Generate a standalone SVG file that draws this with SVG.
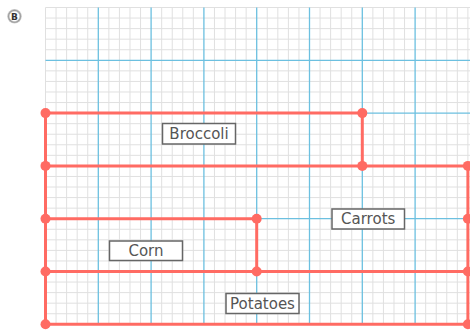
<svg xmlns="http://www.w3.org/2000/svg" width="470" height="333" viewBox="0 0 470 333">
<style>
.fine{stroke:#e0e0e0;stroke-width:1;fill:none}
.major{stroke:#6cc0e0;stroke-width:1.3;fill:none}
.red{stroke:#ff6b63;stroke-width:3;fill:none;stroke-linecap:round}
.dot{fill:#ff6b63}
.lbl rect{fill:#ffffff;stroke:#666666;stroke-width:1.5}
.lbl text{font-family:"DejaVu Sans",sans-serif;font-size:15px;fill:#555555;text-anchor:middle}
</style>
<defs>
<radialGradient id="bg" cx="50%" cy="50%" r="50%">
<stop offset="0.6" stop-color="#ffffff"/>
<stop offset="0.8" stop-color="#9a9a9a"/>
<stop offset="1" stop-color="#d0d0d0"/>
</radialGradient>
</defs>
<rect width="470" height="333" fill="#ffffff"/>
<g id="badge">
<circle cx="14.5" cy="16.3" r="7.3" fill="url(#bg)"/>
<text x="14.5" y="19.6" font-family="DejaVu Sans,sans-serif" font-size="9" font-weight="bold" fill="#333333" text-anchor="middle">B</text>
</g>
<g id="grid">
<path class="fine" d="M45.5 7.5V324.3M56.06 7.5V324.3M66.62 7.5V324.3M77.18 7.5V324.3M87.74 7.5V324.3M108.86 7.5V324.3M119.42 7.5V324.3M129.98 7.5V324.3M140.54 7.5V324.3M161.66 7.5V324.3M172.22 7.5V324.3M182.78 7.5V324.3M193.34 7.5V324.3M214.46 7.5V324.3M225.02 7.5V324.3M235.58 7.5V324.3M246.14 7.5V324.3M267.26 7.5V324.3M277.82 7.5V324.3M288.38 7.5V324.3M298.94 7.5V324.3M320.06 7.5V324.3M330.62 7.5V324.3M341.18 7.5V324.3M351.74 7.5V324.3M372.86 7.5V324.3M383.42 7.5V324.3M393.98 7.5V324.3M404.54 7.5V324.3M425.66 7.5V324.3M436.22 7.5V324.3M446.78 7.5V324.3M457.34 7.5V324.3M467.9 7.5V324.3
M45.5 7.5H470M45.5 18.06H470M45.5 28.62H470M45.5 39.18H470M45.5 49.74H470M45.5 70.86H470M45.5 81.42H470M45.5 91.98H470M45.5 102.54H470M45.5 123.66H470M45.5 134.22H470M45.5 144.78H470M45.5 155.34H470M45.5 176.46H470M45.5 187.02H470M45.5 197.58H470M45.5 208.14H470M45.5 229.26H470M45.5 239.82H470M45.5 250.38H470M45.5 260.94H470M45.5 282.06H470M45.5 292.62H470M45.5 303.18H470M45.5 313.74H470"/>
<path class="major" d="M98.3 7.5V324.3M151.1 7.5V324.3M203.9 7.5V324.3M256.7 7.5V324.3M309.5 7.5V324.3M362.3 7.5V324.3M415.1 7.5V324.3M45.5 60.3H470M362.3 113.1H470M256.7 218.7H467.9"/>
</g>
<g id="connectors">
<path class="red" d="M45.5 113.1H362.3V165.9M45.5 165.9H467.9M45.5 113.1V324.3M45.5 218.7H256.7V271.5M45.5 271.5H467.9M45.5 324.3H467.9M467.9 165.9V324.3"/>
<circle class="dot" cx="45.5" cy="113.1" r="5"/>
<circle class="dot" cx="362.3" cy="113.1" r="5"/>
<circle class="dot" cx="45.5" cy="165.9" r="5"/>
<circle class="dot" cx="362.3" cy="165.9" r="5"/>
<circle class="dot" cx="467.9" cy="165.9" r="5"/>
<circle class="dot" cx="45.5" cy="218.7" r="5"/>
<circle class="dot" cx="256.7" cy="218.7" r="5"/>
<circle class="dot" cx="467.9" cy="218.7" r="5"/>
<circle class="dot" cx="45.5" cy="271.5" r="5"/>
<circle class="dot" cx="256.7" cy="271.5" r="5"/>
<circle class="dot" cx="467.9" cy="271.5" r="5"/>
<circle class="dot" cx="45.5" cy="324.3" r="5"/>
<circle class="dot" cx="467.9" cy="324.3" r="5"/>
</g>
<g id="broccoli" class="lbl"><rect x="162.5" y="123.5" width="73" height="20.5"/><text x="199" y="139">Broccoli</text></g>
<g id="carrots" class="lbl"><rect x="332" y="209" width="72.5" height="20"/><text x="368.2" y="224.3">Carrots</text></g>
<g id="corn" class="lbl"><rect x="109.5" y="241" width="73" height="19.5"/><text x="146" y="256">Corn</text></g>
<g id="potatoes" class="lbl"><rect x="226" y="293.5" width="73" height="20"/><text x="262.5" y="308.7">Potatoes</text></g>
</svg>
